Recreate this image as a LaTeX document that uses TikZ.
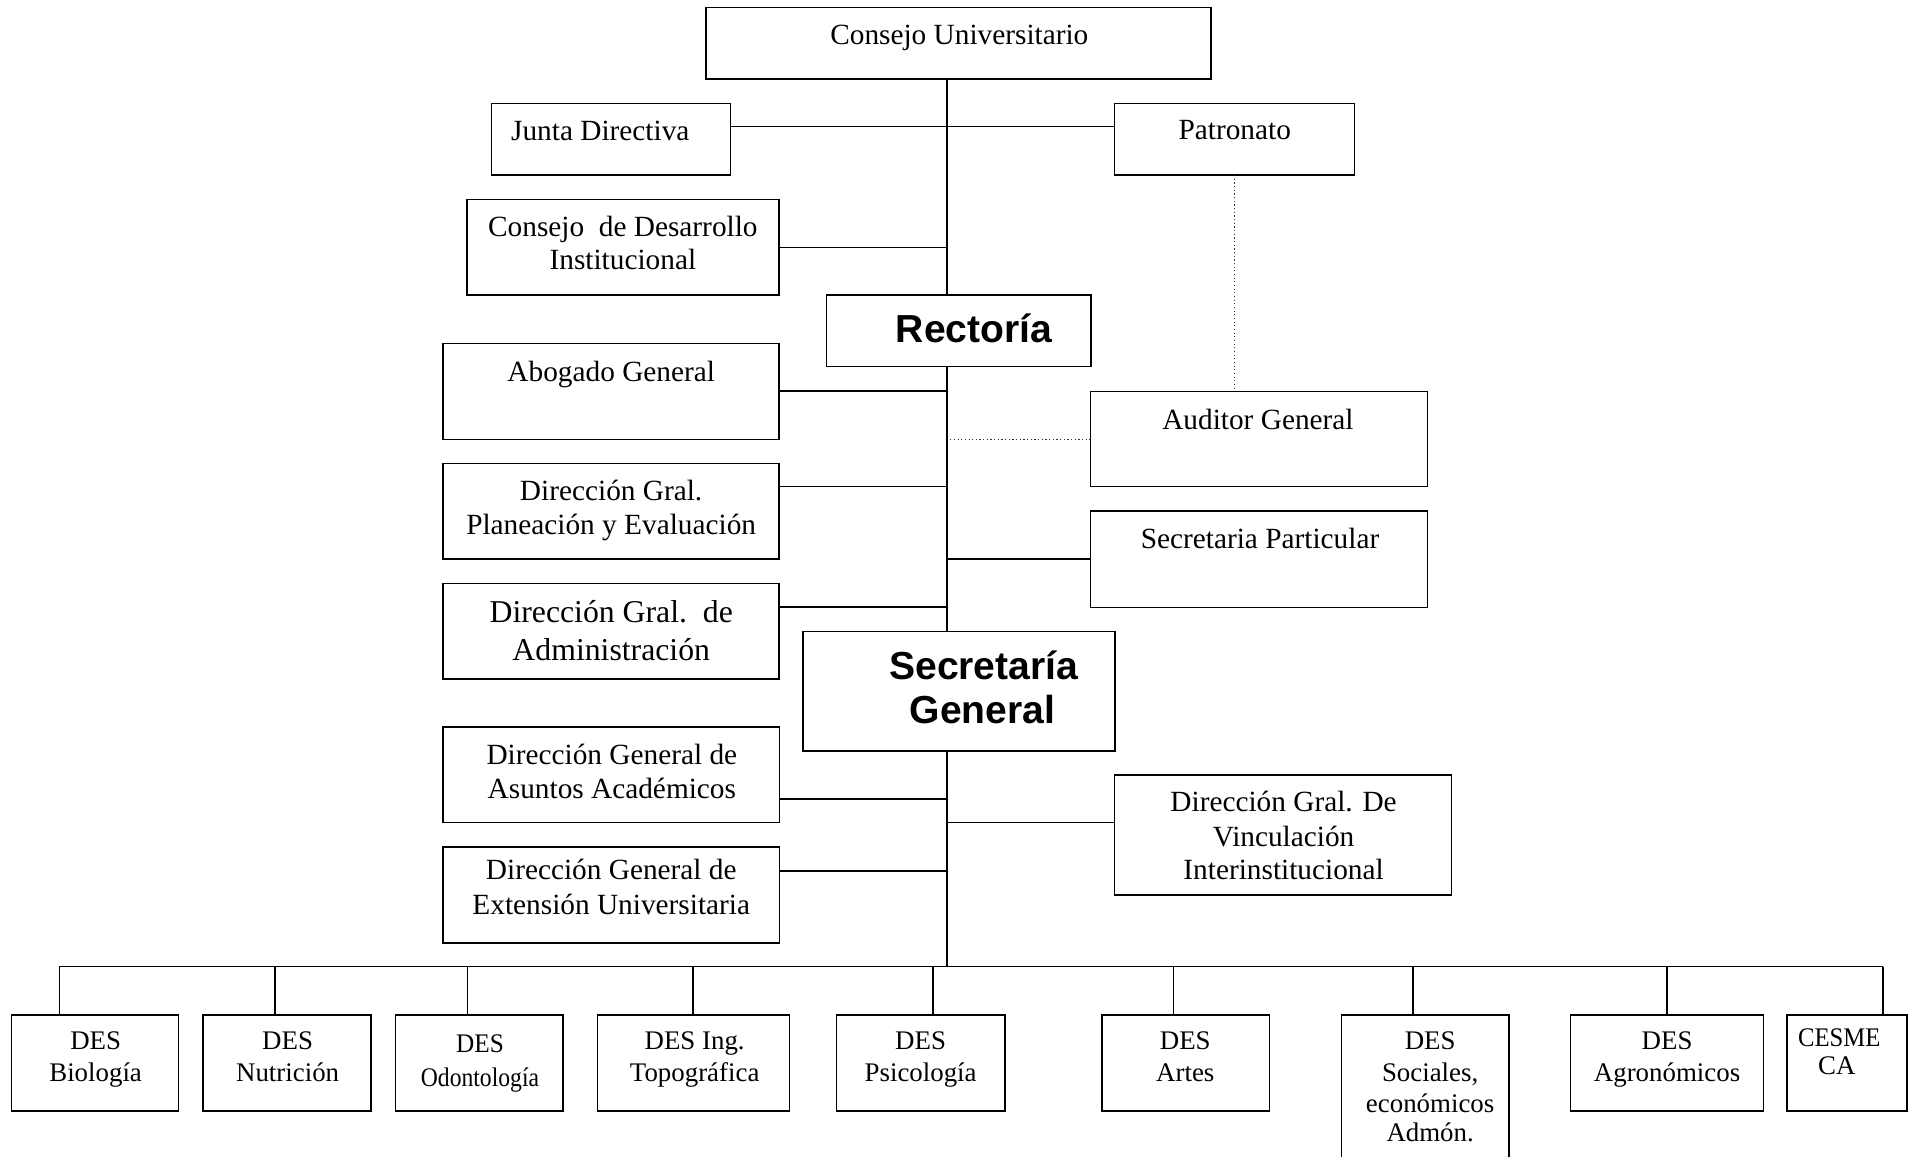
\documentclass[tikz,border=0pt]{standalone}
\usepackage{fontspec}
\setmainfont{Liberation Serif}
\newfontfamily\hsans{Liberation Sans}
\begin{document}
\begin{tikzpicture}[x=0.5pt,y=-0.5pt,
  bx/.style n args={2}{draw, line width=0.65pt, inner sep=0pt,
     minimum width=#1*0.5pt, minimum height=#2*0.5pt},
  ln/.style={line width=0.65pt},
  dl/.style={line width=0.5pt, densely dotted, black!80},
  tx/.style={inner sep=0pt, anchor=base, font=\fontsize{12}{14}\selectfont},
  tb/.style={inner sep=0pt, anchor=base, font=\fontsize{13}{15}\selectfont},
  ts/.style={inner sep=0pt, anchor=base, font=\fontsize{11}{13}\selectfont},
  hb/.style={inner sep=0pt, anchor=base, font=\hsans\bfseries\fontsize{16}{18}\selectfont}]
\useasboundingbox (0,0) rectangle (1568,947);

% boxes
\node[bx={413.4}{58.7}] (cu) at (784.7,35.35) {};
\node[bx={195.4}{58.7}] (junta) at (500.3,113.95) {};
\node[bx={196.4}{58.7}] (pat) at (1010.8,113.95) {};
\node[bx={255.7}{78.3}] (cdi) at (510.15,202.35) {};
\node[bx={216.6}{58.7}] (rect) at (785,270.85) {};
\node[bx={275.2}{78.6}] (abog) at (500.4,320.4) {};
\node[bx={275.7}{77.8}] (aud) at (1030.85,359.6) {};
\node[bx={275.2}{78.3}] (plan) at (500.4,418.55) {};
\node[bx={275.7}{78.9}] (spart) at (1030.85,457.85) {};
\node[bx={275.2}{78.4}] (adm) at (500.4,516.8) {};
\node[bx={255.3}{97.8}] (sg) at (785.15,565.9) {};
\node[bx={275.4}{78.1}] (asu) at (500.5,634.55) {};
\node[bx={275.8}{98.2}] (vin) at (1050.5,683.7) {};
\node[bx={275.4}{78.6}] (ext) at (500.5,732.6) {};

\node[bx={136.8}{78.7}] (b1) at (77.8,870.35) {};
\node[bx={138}{78.7}] (b2) at (235,870.35) {};
\node[bx={137.2}{78.7}] (b3) at (392.4,870.35) {};
\node[bx={157.2}{78.7}] (b4) at (567.9,870.35) {};
\node[bx={138}{78.7}] (b5) at (754,870.35) {};
\node[bx={137.1}{78.7}] (b6) at (970.95,870.35) {};
\node[bx={137.2}{139}] (b7) at (1166.9,900.5) {};
\node[bx={158}{78.7}] (b8) at (1365,870.35) {};
\node[bx={98.5}{78.7}] (b9) at (1512.25,870.35) {};

% texts
\node[tx] (t1) at (785.5,36.8) {Consejo Universitario};
\node[tx] (t2) at (491.5,115.2) {Junta Directiva};
\node[tx] (t3) at (1011,114.6) {Patronato};
\node[tx] (t4a) at (510,193.8) {Consejo\ \ de Desarrollo};
\node[tx] (t4b) at (510,221) {Institucional};
\node[hb] (t5) at (797.5,280.6) {Rectoría};
\node[tx] (t6) at (500.5,312) {Abogado General};
\node[tx] (t7) at (1030,351.5) {Auditor General};
\node[tx] (t8a) at (500.4,410.2) {Dirección Gral.};
\node[tx] (t8b) at (500.4,438) {Planeación y Evaluación};
\node[tx] (t9) at (1031.7,449) {Secretaria Particular};
\node[tb] (t10a) at (500.5,509.8) {Dirección Gral.\ \ de};
\node[tb] (t10b) at (500.5,541) {Administración};
\node[hb] (t11a) at (805.5,556.5) {Secretaría};
\node[hb] (t11b) at (804.5,592.5) {General};
\node[tx] (t12a) at (501,625.8) {Dirección General de};
\node[tx] (t12b) at (501,653.7) {Asuntos Académicos};
\node[tx] (t13a) at (1051,664.6) {Dirección Gral. De};
\node[tx] (t13b) at (1051,692.7) {Vinculación};
\node[tx] (t13c) at (1051,720) {Interinstitucional};
\node[tx] (t14a) at (500.5,720) {Dirección General de};
\node[tx] (t14b) at (500.5,749) {Extensión Universitaria};

\node[ts] (u1a) at (78.3,859.7) {DES};
\node[ts] (u1b) at (78.3,885.7) {Biología};
\node[ts] (u2a) at (235.5,859.7) {DES};
\node[ts] (u2b) at (235.5,885.7) {Nutrición};
\node[ts] (u3a) at (393,861.6) {\scalebox{0.94}[1]{DES}};
\node[ts] (u3b) at (393,889.8) {\scalebox{0.88}[1]{Odontología}};
\node[ts] (u4a) at (568.8,859.7) {DES Ing.};
\node[ts] (u4b) at (568.8,885.7) {Topográfica};
\node[ts] (u5a) at (753.8,859.7) {DES};
\node[ts] (u5b) at (753.8,885.7) {Psicología};
\node[ts] (u6a) at (970.5,859.7) {DES};
\node[ts] (u6b) at (970.5,885.7) {Artes};
\node[ts] (u7a) at (1171,859.7) {DES};
\node[ts] (u7b) at (1171,885.7) {Sociales,};
\node[ts] (u7c) at (1171,910.8) {económicos};
\node[ts] (u7d) at (1171,934.8) {Admón.};
\node[ts] (u8a) at (1365,859.7) {DES};
\node[ts] (u8b) at (1365,885.7) {Agronómicos};
\node[ts] (u9a) at (1506,857) {\scalebox{0.92}[1]{CESME}};
\node[ts] (u9b) at (1504,880) {CA};

% spine coordinates
\coordinate (sp) at (775.6,791.5);
\coordinate (cj) at (775.6,103.7);
\coordinate (cc) at (775.6,202.5);
\coordinate (ca) at (775.6,320.2);
\coordinate (cau) at (778,359.7);
\coordinate (cp) at (775.6,398.5);
\coordinate (cs) at (775.6,457.7);
\coordinate (cad) at (775.6,496.8);
\coordinate (cas) at (775.6,654.2);
\coordinate (cv) at (775.6,673.6);
\coordinate (ce) at (775.6,713.2);
\coordinate (cpd) at (1011,143.3);

% spine
\draw[ln] (cu.south -| sp) -- (rect.north -| sp);
\draw[ln] (rect.south -| sp) -- (sg.north -| sp);
\draw[ln] (sg.south -| sp) -- (sp);

% side connectors
\draw[ln] (junta.east |- cj) -- (pat.west |- cj);
\draw[ln] (cdi.east |- cc) -- (cc);
\draw[ln] (abog.east |- ca) -- (ca);
\draw[ln] (plan.east |- cp) -- (cp);
\draw[ln] (cs) -- (spart.west |- cs);
\draw[ln] (adm.east |- cad) -- (cad);
\draw[ln] (asu.east |- cas) -- (cas);
\draw[ln] (cv) -- (vin.west |- cv);
\draw[ln] (ext.east |- ce) -- (ce);
\draw[dl] (cau) -- (aud.west |- cau);
\draw[dl] (cpd) -- (cpd |- aud.north);

% bus
\coordinate (k1) at (48.6,791.5);
\coordinate (k2) at (225,791.5);
\coordinate (k3) at (382.8,791.5);
\coordinate (k4) at (567.6,791.5);
\coordinate (k5) at (764,791.5);
\coordinate (k6) at (960.7,791.5);
\coordinate (k7) at (1157,791.5);
\coordinate (k8) at (1364.9,791.5);
\coordinate (k9) at (1541.6,791.5);
\draw[ln] (k1) -- (k9);
\draw[ln] (k1) -- (k1 |- b1.north);
\draw[ln] (k2) -- (k2 |- b2.north);
\draw[ln] (k3) -- (k3 |- b3.north);
\draw[ln] (k4) -- (k4 |- b4.north);
\draw[ln] (k5) -- (k5 |- b5.north);
\draw[ln] (k6) -- (k6 |- b6.north);
\draw[ln] (k7) -- (k7 |- b7.north);
\draw[ln] (k8) -- (k8 |- b8.north);
\draw[ln] (k9) -- (k9 |- b9.north);
\end{tikzpicture}
\end{document}
